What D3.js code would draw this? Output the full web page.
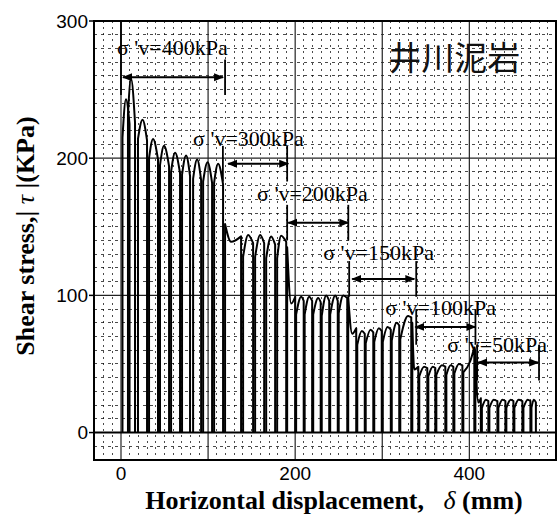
<!DOCTYPE html>
<html><head><meta charset="utf-8">
<script src="https://cdn.jsdelivr.net/npm/d3@7"></script>
<style>body{margin:0;background:#fff}</style>
</head><body>
<svg id="c" width="558" height="516"></svg>
<script>
// each cycle: [xStart, xMid, xEnd (mm), stressStart, stressMid, stressEnd (kPa)]
const stage400 = [
  [1.7, 5.7, 9.8, 215, 243, 225],
  [8.0, 11.5, 16.1, 232, 258, 226],
  [19.5, 24.7, 29.9, 214, 228, 213],
  [32.2, 36.8, 42.5, 200, 214, 199],
  [44.8, 49.4, 55.2, 195, 209, 194],
  [57.5, 62.1, 67.8, 190, 204, 189],
  [70.1, 74.7, 79.3, 188, 202, 187],
  [82.8, 87.4, 92.0, 185, 199, 184],
  [94.3, 99.4, 104.6, 183, 197, 182],
  [106.9, 111.5, 117.2, 182, 196, 181]
];
const stage300 = [
  [119.5, 126.4, 137.9, 152, 139, 143],
  [140.2, 146.0, 151.7, 128, 144, 138],
  [154.0, 159.8, 164.4, 128, 144, 138],
  [166.7, 172.4, 177.0, 127, 143, 137],
  [179.3, 183.9, 189.7, 127, 143.5, 139]
];
const stage200 = [
  [190.8, 195.4, 200.0, 135, 94, 99],
  [201.1, 206.9, 209.8, 86, 99, 96],
  [210.9, 216.1, 219.5, 86, 99, 96],
  [220.7, 226.4, 229.3, 86, 98, 95],
  [230.5, 235.6, 239.1, 85, 100, 96],
  [240.2, 246.0, 248.9, 86, 100, 96],
  [250.0, 255.2, 259.8, 87, 100, 98]
];
const stage150 = [
  [260.9, 265.5, 270.1, 99, 72, 76],
  [271.3, 276.5, 279.9, 64, 74, 72],
  [281.0, 286.5, 289.7, 65, 75, 73],
  [290.8, 296.0, 299.4, 66, 76, 74],
  [300.6, 306.0, 309.8, 66, 77, 75],
  [310.9, 316.5, 319.5, 67, 80, 78],
  [320.7, 329.5, 333.3, 68, 85, 84]
];
const stage100 = [
  [334.5, 336.8, 341.4, 80, 46, 48],
  [342.5, 348.0, 351.7, 41, 48, 47],
  [352.9, 358.0, 360.9, 41, 48, 47],
  [362.1, 368.5, 372.4, 42, 49, 48],
  [373.6, 378.5, 381.6, 42, 49, 48],
  [382.8, 388.0, 392.0, 43, 50, 49],
  [393.1, 401.0, 405.7, 44, 52, 62]
];
const stage50 = [
  [406.9, 410.3, 413.2, 60, 22, 25],
  [414.4, 419.0, 421.8, 18, 24, 23],
  [423.0, 428.0, 432.2, 18, 24, 23],
  [433.3, 438.0, 441.4, 18, 24, 23],
  [442.5, 447.5, 450.6, 18, 24, 23],
  [451.7, 456.5, 460.9, 18, 24, 23],
  [462.1, 467.0, 470.1, 18, 24, 23],
  [471.3, 474.0, 476.4, 18, 24, 22]
];
const stageNames = ["σ 'v=400kPa", "σ 'v=300kPa", "σ 'v=200kPa", "σ 'v=150kPa", "σ 'v=100kPa", "σ 'v=50kPa"];
const bracketFrom = [2.3, 123, 192, 265.5, 338, 410];
const bracketTo = [117.2, 192, 261, 336.8, 407, 479];
const tickLeft = [0, 117, 190.8, 262, 339, 409];
const tickRight = [119.5, 190.8, 261, 339, 407, 480];
const bracketLevel = [259, 196, 153, 112, 77, 51];
const labelXmm = [-4.6, 82.8, 156.3, 232.2, 303.4, 374.7];
const labelKPa = [275.2, 208.9, 168.8, 125.8, 85.7, 58.7];
const xTicks = [0, 200, 400];
const yTicks = [0, 100, 200, 300];
const materialLabel = "井川泥岩";

const stages = [stage400, stage300, stage200, stage150, stage100, stage50];

const svg = d3.select("#c");
const L = 94, R = 556, T = 21, B = 460;
const x = d3.scaleLinear().domain([-31, 499.5]).range([L, R]);
const y = d3.scaleLinear().domain([-20, 300]).range([B, T]);

svg.append("defs").append("clipPath").attr("id", "clip")
  .append("rect").attr("x", L).attr("y", T).attr("width", R - L).attr("height", B - T);

const grid = svg.append("g").attr("clip-path", "url(#clip)");
// minor grid
grid.selectAll(".mv").data(d3.range(-30, 500, 10).filter(v => v % 100 !== 0)).join("line")
  .attr("x1", d => x(d)).attr("x2", d => x(d)).attr("y1", T).attr("y2", B)
  .attr("stroke", "#000").attr("stroke-width", 1).attr("stroke-dasharray", "2,4")
  .attr("shape-rendering", "crispEdges").attr("opacity", 0.7);
grid.selectAll(".mh").data(d3.range(-10, 300, 10).filter(v => v % 100 !== 0)).join("line")
  .attr("y1", d => y(d)).attr("y2", d => y(d)).attr("x1", L).attr("x2", R)
  .attr("stroke", "#000").attr("stroke-width", 1).attr("stroke-dasharray", "3,4")
  .attr("shape-rendering", "crispEdges").attr("opacity", 0.7);
// major grid
grid.selectAll(".Mv").data([0, 100, 200, 300, 400]).join("line")
  .attr("x1", d => x(d)).attr("x2", d => x(d)).attr("y1", T).attr("y2", B)
  .attr("stroke", "#222").attr("stroke-width", 1.2);
grid.selectAll(".Mh").data([100, 200]).join("line")
  .attr("y1", d => y(d)).attr("y2", d => y(d)).attr("x1", L).attr("x2", R)
  .attr("stroke", "#222").attr("stroke-width", 1.2);
grid.append("line").attr("x1", L).attr("x2", R).attr("y1", y(0)).attr("y2", y(0))
  .attr("stroke", "#000").attr("stroke-width", 2);

// curve
const seg = d3.line().x(d => x(d[0])).y(d => y(d[1]));
const topLine = d3.line().x(d => x(d[0])).y(d => y(d[1])).curve(d3.curveMonotoneX);
const curveG = svg.append("g").attr("clip-path", "url(#clip)");
stages.forEach(st => st.forEach(c => {
  const [x0, xm, x1, y0, ym, y1] = c;
  const d = seg([[x0, 0], [x0, y0]]) +
    topLine([[x0, y0], [xm, ym], [x1, y1]]).replace(/^M/, "L") +
    seg([[x1, y1], [x1, 0]]).replace(/^M/, "L");
  curveG.append("path").attr("d", d).attr("fill", "none")
    .attr("stroke", "#000").attr("stroke-width", 2).attr("stroke-linejoin", "round");
}));

// brackets
const defs = svg.select("defs");
defs.append("marker").attr("id", "ah").attr("viewBox", "0 0 10 10").attr("refX", 9).attr("refY", 5)
  .attr("markerWidth", 5).attr("markerHeight", 5).attr("orient", "auto-start-reverse")
  .attr("markerUnits", "strokeWidth")
  .append("path").attr("d", "M0,1 L10,5 L0,9 Z").attr("fill", "#000");
const ann = svg.append("g");
stageNames.forEach((name, i) => {
  ann.append("line").attr("x1", x(bracketFrom[i])).attr("x2", x(bracketTo[i]))
    .attr("y1", y(bracketLevel[i])).attr("y2", y(bracketLevel[i]))
    .attr("stroke", "#000").attr("stroke-width", 2)
    .attr("marker-start", "url(#ah)").attr("marker-end", "url(#ah)");
  const topL = i === 0 ? 300 : bracketLevel[i] + 13;
  ann.append("line").attr("x1", x(tickLeft[i])).attr("x2", x(tickLeft[i]))
    .attr("y1", y(topL)).attr("y2", y(bracketLevel[i] - 13))
    .attr("stroke", "#000").attr("stroke-width", 1.8);
  ann.append("line").attr("x1", x(tickRight[i])).attr("x2", x(tickRight[i]))
    .attr("y1", y(bracketLevel[i] + 13)).attr("y2", y(bracketLevel[i] - 13))
    .attr("stroke", "#000").attr("stroke-width", 1.8);
  ann.append("text").attr("x", x(labelXmm[i])).attr("y", y(labelKPa[i]))
    .attr("font-family", "'Liberation Serif','Times New Roman',serif").attr("font-size", 22)
    .attr("fill", "#000").text(name);
});

svg.append("text").attr("x", x(306.9)).attr("y", y(264.3))
  .attr("font-family", "'Noto Sans CJK JP','Noto Sans CJK SC',sans-serif").attr("font-size", 33)
  .attr("font-weight", 400).attr("fill", "#111").text(materialLabel);

// frame
svg.append("rect").attr("x", L).attr("y", T).attr("width", R - L).attr("height", B - T)
  .attr("fill", "none").attr("stroke", "#000").attr("stroke-width", 2);

// axes labels
const tickFont = "'Liberation Sans',Arial,sans-serif";
svg.selectAll(".yl").data(yTicks).join("text")
  .attr("x", L - 6).attr("y", d => y(d)).attr("dy", "0.36em").attr("text-anchor", "end")
  .attr("font-family", tickFont).attr("font-size", 19).text(d => d);
svg.selectAll(".yt").data(yTicks).join("line")
  .attr("x1", L - 5).attr("x2", L).attr("y1", d => y(d)).attr("y2", d => y(d))
  .attr("stroke", "#000").attr("stroke-width", 1.5);
svg.selectAll(".xl").data(xTicks).join("text")
  .attr("x", d => x(d)).attr("y", B + 20).attr("text-anchor", "middle")
  .attr("font-family", tickFont).attr("font-size", 19).text(d => d);

const titleFont = "'Liberation Serif','Times New Roman',serif";
const xt = svg.append("text").attr("x", 334).attr("y", 509).attr("text-anchor", "middle")
  .attr("font-family", titleFont).attr("font-size", 26).attr("font-weight", "bold");
xt.append("tspan").text("Horizontal displacement,\u00a0\u00a0 ");
xt.append("tspan").attr("font-style", "italic").attr("font-weight", "normal").text("δ");
xt.append("tspan").text(" (mm)");

const yt = svg.append("text").attr("transform", "translate(34,236) rotate(-90)")
  .attr("text-anchor", "middle").attr("font-family", titleFont).attr("font-size", 26).attr("font-weight", "bold");
yt.append("tspan").text("Shear stress,| ");
yt.append("tspan").attr("font-style", "italic").attr("font-weight", "normal").text("τ");
yt.append("tspan").text(" |(KPa)");
</script>
</body></html>
